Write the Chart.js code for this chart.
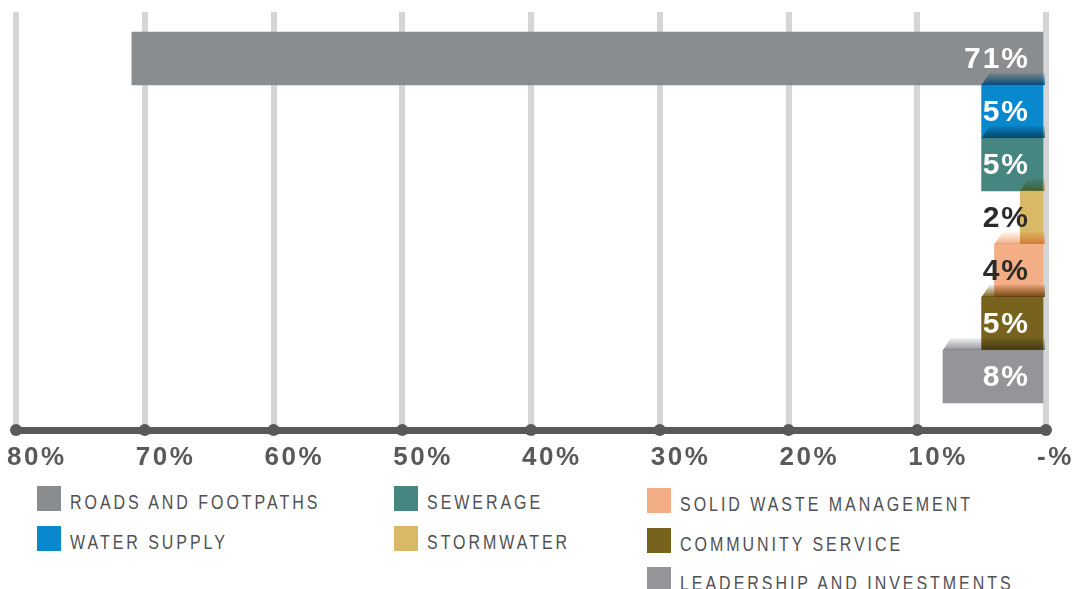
<!DOCTYPE html>
<html>
<head>
<meta charset="utf-8">
<script src="https://cdn.jsdelivr.net/npm/chart.js@4"></script>
<style>
  body { margin: 0; background: #fff; }
  #wrap { position: relative; width: 1073px; height: 589px; overflow: hidden; }
  #plot { position: absolute; left: 0; top: 0; width: 1073px; height: 480px; }
  #legend { position: absolute; left: 37px; top: 486px; display: flex;
            font-family: 'Liberation Sans', Arial, sans-serif;
            font-size: 20px; letter-spacing: 3.7px; color: #505153; }
  .col { display: flex; flex-direction: column; }
  .col:nth-child(1) { width: 357px; }
  .col:nth-child(2) { width: 253px; }
  .col:nth-child(3) { margin-top: 2px; }
  .item { display: flex; align-items: flex-start; height: 39.5px; }
  .sw { width: 24px; height: 25px; margin-right: 9px; flex: none; }
  .lbl { line-height: 1; margin-top: 6px; white-space: nowrap;
         transform: scaleX(0.8); transform-origin: left center; }
</style>
</head>
<body>
<div id="wrap">
  <div id="plot"><canvas id="spendChart"></canvas></div>
  <div id="legend"></div>
</div>
<script>
const categories = ['ROADS AND FOOTPATHS', 'WATER SUPPLY', 'SEWERAGE', 'STORMWATER',
  'SOLID WASTE MANAGEMENT', 'COMMUNITY SERVICE', 'LEADERSHIP AND INVESTMENTS'];
const shares = [71, 5, 5, 2, 4, 5, 8];
const xTicks = [0, 10, 20, 30, 40, 50, 60, 70, 80];

const barColors = ['#8a8d90', '#0a88ce', '#478580', '#d9b966', '#f4ae85', '#78631e', '#939598'];
const labelColors = ['#ffffff', '#ffffff', '#ffffff', '#2b2b2b', '#2b2b2b', '#ffffff', '#ffffff'];
const legendColumns = [[0, 1], [2, 3], [4, 5, 6]];

function withAlpha(hex, a) {
  const n = parseInt(hex.slice(1), 16);
  return `rgba(${n >> 16}, ${(n >> 8) & 255}, ${n & 255}, ${a})`;
}

// slanted top face on each bar, multiplied over whatever sits above it
const barFaces = {
  id: 'barFaces',
  afterDatasetsDraw(chart) {
    const ctx = chart.ctx;
    const bars = chart.getDatasetMeta(0).data;
    ctx.save();
    ctx.globalCompositeOperation = 'multiply';
    bars.forEach((bar, i) => {
      if (i === 0) return;
      const { x, y, base, height } = bar.getProps(['x', 'y', 'base', 'height'], true);
      const top = y - height / 2;
      const g = ctx.createLinearGradient(0, top - 12, 0, top);
      g.addColorStop(0, withAlpha(barColors[i], 0.12));
      g.addColorStop(1, withAlpha(barColors[i], 1));
      ctx.fillStyle = g;
      ctx.beginPath();
      ctx.moveTo(x, top);
      ctx.lineTo(x + 8, top - 12);
      ctx.lineTo(base + 2, top - 12);
      ctx.lineTo(base + 2, top);
      ctx.closePath();
      ctx.fill();
    });
    ctx.restore();
  }
};

const barLabels = {
  id: 'barLabels',
  afterDatasetsDraw(chart) {
    const ctx = chart.ctx;
    ctx.save();
    ctx.font = 'bold 30px "Liberation Sans", Arial, sans-serif';
    ctx.letterSpacing = '2px';
    ctx.textAlign = 'right';
    ctx.textBaseline = 'middle';
    chart.getDatasetMeta(0).data.forEach((bar, i) => {
      ctx.fillStyle = labelColors[i];
      ctx.fillText(shares[i] + '%', bar.base - 13, bar.y + 1);
    });
    ctx.restore();
  }
};

// spaced tick text and round knobs on the axis line
const axisStyle = {
  id: 'axisStyle',
  beforeDraw(chart) { chart.ctx.letterSpacing = '2.5px'; },
  afterDraw(chart) {
    const ctx = chart.ctx;
    const sx = chart.scales.x;
    ctx.save();
    ctx.letterSpacing = '0px';
    ctx.fillStyle = '#58595b';
    sx.ticks.forEach(t => {
      ctx.beginPath();
      ctx.arc(sx.getPixelForValue(t.value), chart.chartArea.bottom, 6, 0, Math.PI * 2);
      ctx.fill();
    });
    ctx.restore();
    ctx.letterSpacing = '0px';
  }
};

new Chart(document.getElementById('spendChart'), {
  type: 'bar',
  data: {
    labels: categories,
    datasets: [{
      data: shares.map((v, i) => ({ x: v, y: i })),
      backgroundColor: barColors,
      borderWidth: 0,
      barPercentage: 1,
      categoryPercentage: 1
    }]
  },
  options: {
    indexAxis: 'y',
    responsive: true,
    maintainAspectRatio: false,
    animation: false,
    layout: { padding: { left: 16, right: 27, top: 12, bottom: 0 } },
    plugins: { legend: { display: false }, tooltip: { enabled: false } },
    scales: {
      x: {
        type: 'linear',
        reverse: true,
        min: 0,
        max: 80,
        afterBuildTicks: s => { s.ticks = xTicks.map(v => ({ value: v })); },
        afterFit: s => { s.height = 50; },
        grid: { color: '#d5d5d5', lineWidth: 6, drawTicks: false },
        border: { color: '#58595b', width: 7 },
        ticks: {
          align: 'start',
          labelOffset: -9,
          padding: 12,
          color: '#58595b',
          font: { family: '"Liberation Sans", Arial, sans-serif', size: 26, weight: 'bold' },
          callback: v => v === 0 ? '-%' : v + '%'
        }
      },
      y: {
        type: 'linear',
        reverse: true,
        offset: false,
        min: -0.877,
        max: 7.01,
        display: false,
        afterBuildTicks: s => { s.ticks = shares.map((v, i) => ({ value: i })); },
        grid: { display: false, offset: false }
      }
    }
  },
  plugins: [barFaces, barLabels, axisStyle]
});

const legend = document.getElementById('legend');
legendColumns.forEach(col => {
  const c = document.createElement('div');
  c.className = 'col';
  col.forEach(i => {
    const item = document.createElement('div');
    item.className = 'item';
    item.innerHTML = `<span class="sw" style="background:${barColors[i]}"></span><span class="lbl">${categories[i]}</span>`;
    c.appendChild(item);
  });
  legend.appendChild(c);
});
</script>
</body>
</html>
